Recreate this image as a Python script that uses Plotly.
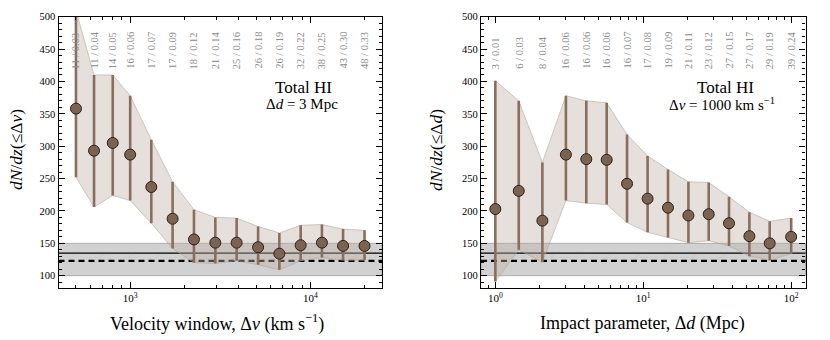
import numpy as np
import plotly.graph_objects as go

# ---------------- data ----------------
# Left panel: velocity window
dv = [500, 630, 800, 1000, 1310, 1720, 2260, 2970, 3900, 5130, 6730, 8840, 11600, 15200, 20000]
dv_y = [358, 293, 305, 287, 237, 188, 156, 151, 151, 144, 134, 147, 151, 146, 146]
dv_hi = [510, 410, 410, 378, 310, 245, 202, 190, 189, 176, 166, 178, 179, 172, 170]
dv_lo = [252, 206, 224, 216, 181, 142, 120, 119, 123, 117, 109, 123, 128, 124, 124]
dv_labels = ["11 / 0.03", "11 / 0.04", "14 / 0.05", "16 / 0.06", "17 / 0.07", "17 / 0.09",
             "18 / 0.12", "21 / 0.14", "25 / 0.16", "26 / 0.18", "26 / 0.19", "32 / 0.22",
             "38 / 0.25", "43 / 0.30", "48 / 0.33"]

# Right panel: impact parameter
dd = [1, 1.44, 2.08, 3, 4.12, 5.66, 7.77, 10.7, 14.7, 20.2, 27.7, 38, 52.2, 71.6, 100]
dd_y = [203, 231, 185, 287, 280, 279, 242, 219, 205, 193, 195, 181, 161, 150, 160]
dd_hi = [401, 370, 275, 378, 370, 367, 318, 285, 264, 245, 244, 222, 198, 184, 189]
dd_lo = [91, 140, 121, 216, 212, 210, 182, 167, 159, 151, 154, 146, 130, 124, 134]
dd_labels = ["3 / 0.01", "6 / 0.03", "8 / 0.04", "16 / 0.06", "16 / 0.06", "16 / 0.06",
             "16 / 0.07", "17 / 0.08", "19 / 0.09", "21 / 0.11", "23 / 0.12", "27 / 0.15",
             "27 / 0.17", "29 / 0.19", "39 / 0.24"]

# reference values (horizontal lines / band)
ref_band = [100, 150]
ref_solid = 135
ref_dashed = 123

x1_range = [400, 25000]
x2_range = [0.8, 125]
y_range = [81, 500]

# ---------------- style ----------------
FONT = "Liberation Serif, Times New Roman, serif"
band_fill = "rgba(190,178,168,0.40)"
band_line = "rgba(175,162,152,0.55)"
bar_col = "#8a6e5c"
pt_col = "#7b6351"
lab_col = "#8c8c8c"

fig = go.Figure()


def add_panel(x, y, hi, lo, xa, ya, xr):
    # shaded band
    fig.add_trace(go.Scatter(
        x=list(x) + list(x)[::-1], y=list(hi) + list(lo)[::-1],
        fill="toself", fillcolor=band_fill, mode="lines",
        line=dict(color=band_line, width=1), xaxis=xa, yaxis=ya,
        hoverinfo="skip", showlegend=False))
    # faint hatch between dashed and solid lines
    fig.add_trace(go.Scatter(
        x=[xr[0], xr[1], xr[1], xr[0]], y=[ref_dashed, ref_dashed, ref_solid, ref_solid],
        fill="toself", mode="lines", line=dict(width=0),
        fillcolor="rgba(0,0,0,0)",
        fillpattern=dict(shape="/", fgcolor="rgba(140,140,140,0.35)", bgcolor="rgba(0,0,0,0)",
                         size=20, solidity=0.04),
        xaxis=xa, yaxis=ya, hoverinfo="skip", showlegend=False))
    # points with error bars
    fig.add_trace(go.Scatter(
        x=x, y=y, mode="markers", xaxis=xa, yaxis=ya,
        marker=dict(size=11, color=pt_col, line=dict(color="#2b2118", width=1)),
        error_y=dict(type="data", symmetric=False,
                     array=[h - v for h, v in zip(hi, y)],
                     arrayminus=[v - l for v, l in zip(y, lo)],
                     color=bar_col, thickness=2.6, width=0),
        showlegend=False))


add_panel(dv, dv_y, dv_hi, dv_lo, "x", "y", x1_range)
add_panel(dd, dd_y, dd_hi, dd_lo, "x2", "y2", x2_range)

shapes = []
for xa, ya in [("x", "y"), ("x2", "y2")]:
    shapes.append(dict(type="rect", xref=f"{xa} domain", yref=ya, x0=0, x1=1,
                       y0=ref_band[0], y1=ref_band[1], layer="below",
                       fillcolor="rgba(175,175,175,0.58)",
                       line=dict(color="rgba(140,140,140,0.6)", width=1)))
    shapes.append(dict(type="line", xref=f"{xa} domain", yref=ya, x0=0, x1=1,
                       y0=ref_solid, y1=ref_solid, layer="below",
                       line=dict(color="black", width=1.2)))
    shapes.append(dict(type="line", xref=f"{xa} domain", yref=ya, x0=0, x1=1,
                       y0=ref_dashed, y1=ref_dashed, layer="below",
                       line=dict(color="black", width=2.2, dash="6px,4px")))


def minor_vals(lo_exp, hi_exp):
    out = []
    for e in range(lo_exp, hi_exp + 1):
        for m in range(2, 10):
            out.append(m * 10 ** e)
    return out


common_x = dict(type="log", showline=True, linecolor="black", linewidth=1.4, mirror="ticks",
                ticks="inside", ticklen=6, tickwidth=1, tickcolor="black", showgrid=False,
                zeroline=False, tickfont=dict(family=FONT, size=11, color="black"))
common_y = dict(range=y_range, showline=True, linecolor="black", linewidth=1.4, mirror="ticks",
                ticks="inside", ticklen=6, tickwidth=1, tickcolor="black", showgrid=False,
                zeroline=False, tickmode="linear", tick0=0, dtick=50,
                minor=dict(dtick=10, ticks="inside", ticklen=3, tickcolor="black", showgrid=False),
                tickfont=dict(family=FONT, size=10.5, color="black"))

dom1 = [58.5 / 830, 382 / 830]
dom2 = [481 / 830, 805.5 / 830]
ydom = [1 - 288 / 340, 1 - 16.7 / 340]

fig.update_layout(
    width=830, height=340, margin=dict(l=0, r=0, t=0, b=0, autoexpand=False),
    paper_bgcolor="white", plot_bgcolor="white",
    xaxis=dict(common_x, domain=dom1, anchor="y",
               range=[np.log10(x1_range[0]), np.log10(x1_range[1])],
               tickmode="array", tickvals=[1000, 10000],
               ticktext=["10<sup>3</sup>", "10<sup>4</sup>"],
               minor=dict(tickmode="array", tickvals=minor_vals(2, 4), ticks="inside",
                          ticklen=3, tickcolor="black", showgrid=False)),
    yaxis=dict(common_y, domain=ydom, anchor="x"),
    xaxis2=dict(common_x, domain=dom2, anchor="y2",
                range=[np.log10(x2_range[0]), np.log10(x2_range[1])],
                tickmode="array", tickvals=[1, 10, 100],
                ticktext=["10<sup>0</sup>", "10<sup>1</sup>", "10<sup>2</sup>"],
                minor=dict(tickmode="array", tickvals=minor_vals(-1, 2), ticks="inside",
                           ticklen=3, tickcolor="black", showgrid=False)),
    yaxis2=dict(common_y, domain=ydom, anchor="x2"),
    shapes=shapes,
    showlegend=False,
)

ann = []
# top rotated labels
for xs, labs, xa in [(dv, dv_labels, "x"), (dd, dd_labels, "x2")]:
    for xv, t in zip(xs, labs):
        ann.append(dict(x=np.log10(xv), xref=xa, y=1 - 71 / 340, yref="paper",
                        text=t, textangle=-90, showarrow=False, yanchor="bottom",
                        xanchor="center",
                        font=dict(family=FONT, size=10.5, color=lab_col)))


def txt(x, y, text, size, angle=0):
    return dict(x=x / 830, y=1 - y / 340, xref="paper", yref="paper", text=text,
                textangle=angle, showarrow=False, xanchor="center", yanchor="middle",
                font=dict(family=FONT, size=size, color="black"))


ann += [
    txt(303, 87, "Total HI", 17),
    txt(302, 104, "Δ<i>d</i> = 3 Mpc", 15),
    txt(725, 87, "Total HI", 17),
    txt(722, 104, "Δ<i>v</i> = 1000 km s<sup>−1</sup>", 15),
    txt(217, 323, "Velocity window, Δ<i>v</i> (km s<sup>−1</sup>)", 18),
    txt(642, 323, "Impact parameter, Δ<i>d</i> (Mpc)", 18),
    txt(16, 150, "<i>dN</i>/<i>dz</i>(≤Δ<i>v</i>)", 17.5, -90),
    txt(436, 150, "<i>dN</i>/<i>dz</i>(≤Δ<i>d</i>)", 17.5, -90),
]
fig.update_layout(annotations=ann)

fig.write_html(
    "out.html",
    config={"displayModeBar": False},
    post_script="document.body.style.margin='0';document.body.style.padding='0';"
                "document.documentElement.style.overflow='hidden';",
)
